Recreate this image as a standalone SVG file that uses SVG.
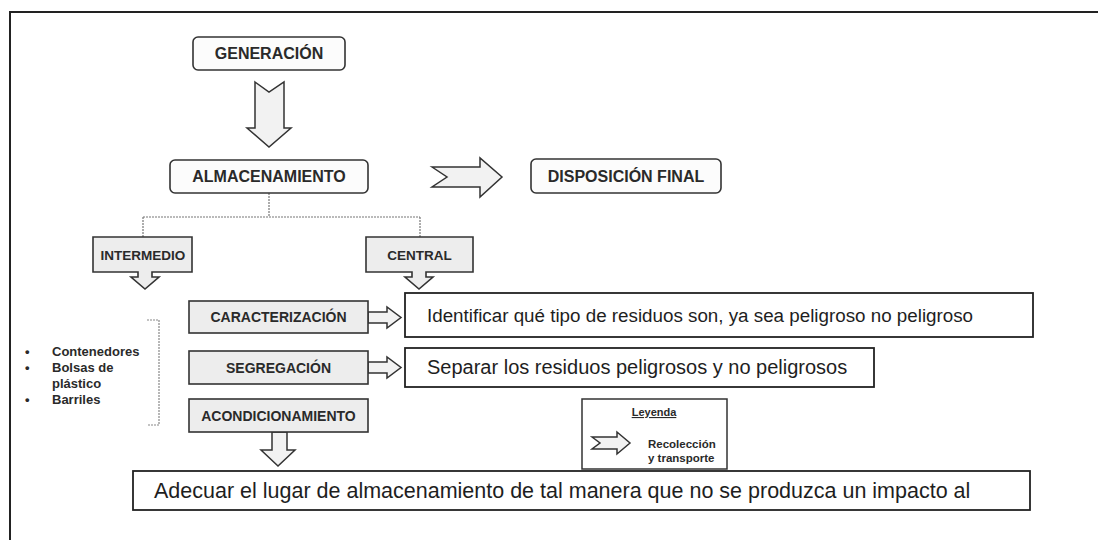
<svg xmlns="http://www.w3.org/2000/svg" width="1098" height="540" viewBox="0 0 1098 540">
<style>
.b{font-family:"Liberation Sans",Arial,sans-serif;font-weight:bold;fill:#2a2a2a}
.r{font-family:"Liberation Sans",Arial,sans-serif;fill:#1e1e1e}
.rb{fill:#fcfcfc;stroke:#333;stroke-width:1.6}
.gb{fill:#ededed;stroke:#333;stroke-width:1.6}
.wb{fill:#fff;stroke:#222;stroke-width:1.8}
.ar{fill:#f2f2f2;stroke:#333;stroke-width:1.5;stroke-linejoin:miter}
.dot{fill:none;stroke:#777;stroke-width:1.2;stroke-dasharray:2 1}
</style>
<rect width="1098" height="540" fill="#fff"/>
<g id="frame">
<path d="M10 540 V12 H1098" fill="none" stroke="#222" stroke-width="2"/>
</g>
<g id="connectors">
<path class="dot" d="M269 193 V217 M143 217 H420 M143 217 V237 M420 217 V237"/>
<polygon class="ar" points="255,82 269,92 284,82 284,128 291,128 269,147 247,128 255,128"/>
<polygon class="ar" points="432,167 447,177 432,187 480,187 480,197 502,177 480,158 480,167"/>
<polygon class="ar" points="368,312 387,312 387,307 401,317.5 387,328 387,323 368,323"/>
<polygon class="ar" points="368,362 387,362 387,357 401,367.5 387,378 387,373 368,373"/>
<polygon class="ar" points="272,432 287,432 287,450 295,450 278,466 261,450 272,450"/>
</g>
<g id="generacion">
<rect class="rb" x="193" y="37" width="152" height="33" rx="5"/>
<text class="b" x="269" y="59" font-size="16" text-anchor="middle">GENERACIÓN</text>
</g>
<g id="almacenamiento">
<rect class="rb" x="170" y="160" width="198" height="33" rx="5"/>
<text class="b" x="269" y="182" font-size="16" text-anchor="middle">ALMACENAMIENTO</text>
</g>
<g id="disposicion">
<rect class="rb" x="531" y="159" width="190" height="34" rx="5"/>
<text class="b" x="626" y="182" font-size="16" text-anchor="middle">DISPOSICIÓN FINAL</text>
</g>
<g id="intermedio">
<path class="gb" d="M93 237 H192 V272 H152 V277 H159 L145 289 L131 277 H138 V272 H93 Z"/>
<text class="b" x="143" y="259.5" font-size="13.5" text-anchor="middle">INTERMEDIO</text>
</g>
<g id="central">
<path class="gb" d="M366 237 H473 V272 H426 V277 H433 L419 289 L405 277 H412 V272 H366 Z"/>
<text class="b" x="419.5" y="259.5" font-size="13.5" text-anchor="middle">CENTRAL</text>
</g>
<g id="caracterizacion">
<rect class="gb" x="189" y="301" width="179" height="32"/>
<text class="b" x="278.5" y="322" font-size="14" text-anchor="middle">CARACTERIZACIÓN</text>
</g>
<g id="segregacion">
<rect class="gb" x="189" y="351" width="179" height="33"/>
<text class="b" x="278.5" y="372.5" font-size="14" text-anchor="middle">SEGREGACIÓN</text>
</g>
<g id="acondicionamiento">
<rect class="gb" x="189" y="399" width="179" height="33"/>
<text class="b" x="278.5" y="420.5" font-size="14" text-anchor="middle">ACONDICIONAMIENTO</text>
</g>
<g id="identificar">
<rect class="wb" x="405" y="293" width="628" height="44"/>
<text class="r" x="427" y="321.5" font-size="18.8">Identificar qué tipo de residuos son, ya sea peligroso no peligroso</text>
</g>
<g id="separar">
<rect class="wb" x="405" y="348" width="469" height="39"/>
<text class="r" x="427" y="374" font-size="20">Separar los residuos peligrosos y no peligrosos</text>
</g>
<g id="adecuar">
<rect class="wb" x="133" y="471" width="897" height="39"/>
<text class="r" x="154" y="498" font-size="21.5">Adecuar el lugar de almacenamiento de tal manera que no se produzca un impacto al</text>
</g>
<g id="recipientes">
<path d="M147 320 H159 V425 H147" fill="none" stroke="#888" stroke-width="1.2" stroke-dasharray="2 1"/>
<g class="b" font-size="13">
<text x="25" y="356">•</text>
<text x="52" y="356">Contenedores</text>
<text x="25" y="372">•</text>
<text x="52" y="372">Bolsas de</text>
<text x="52" y="388">plástico</text>
<text x="25" y="404">•</text>
<text x="52" y="404">Barriles</text>
</g>
</g>
<g id="leyenda">
<rect x="582" y="399" width="145" height="70" fill="#fff" stroke="#333" stroke-width="1.5"/>
<text class="b" x="654" y="416" font-size="11" text-anchor="middle" text-decoration="underline">Leyenda</text>
<polygon class="ar" points="592,437 600,443 592,449 617,449 617,454 630,443 617,432 617,437"/>
<text class="b" x="648" y="448" font-size="11.5">Recolección</text>
<text class="b" x="648" y="462" font-size="11.5">y transporte</text>
</g>
</svg>
